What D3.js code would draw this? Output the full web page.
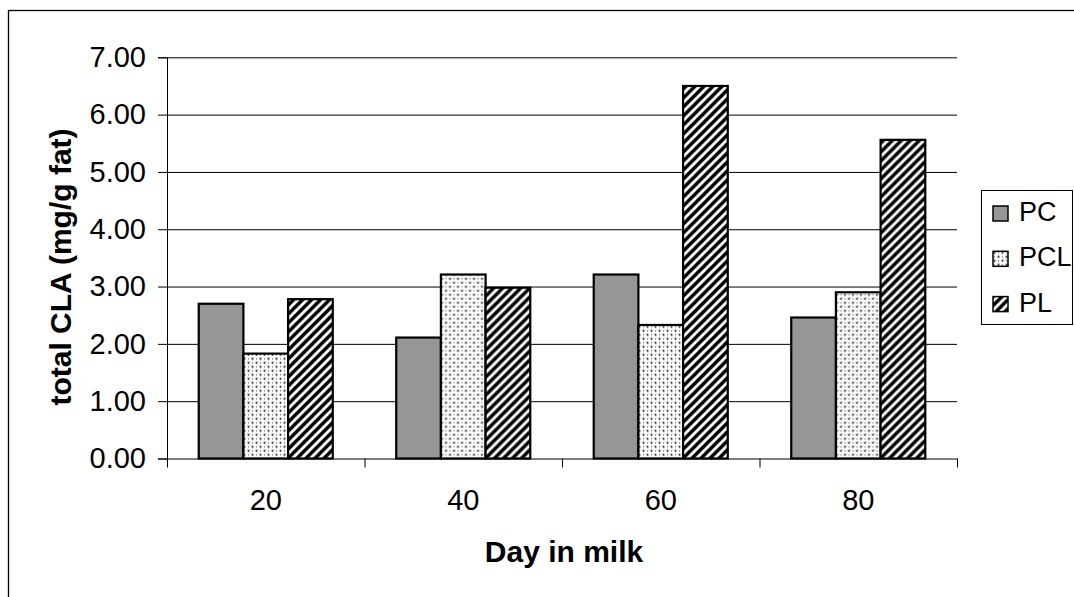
<!DOCTYPE html>
<html>
<head>
<meta charset="utf-8">
<script src="https://cdn.jsdelivr.net/npm/d3@7"></script>
<style>
  body { margin: 0; background: #fff; }
  text { font-family: "Liberation Sans", Arial, sans-serif; fill: #000; }
  .axis-title { font-weight: bold; font-size: 30px; }
  .tick text { font-size: 29px; }
  .legend text { font-size: 27px; }
</style>
</head>
<body>
<div id="chart"></div>
<script>
// Data
const categories = ['20', '40', '60', '80'];
const seriesNames = ['PC', 'PCL', 'PL'];
const pcValues = [2.70, 2.11, 3.21, 2.46];
const pclValues = [1.83, 3.21, 2.33, 2.90];
const plValues = [2.78, 2.98, 6.50, 5.56];
const yTicks = [0, 1, 2, 3, 4, 5, 6, 7];

class GroupedBarChart {

  constructor(_config) {
    this.config = {
      parentElement: _config.parentElement,
      containerWidth: 1074,
      containerHeight: 597,
      margin: { top: 57.3, right: 117, bottom: 138.5, left: 167 }
    };
    this.initVis();
  }

  initVis() {
    let vis = this;

    vis.width = vis.config.containerWidth - vis.config.margin.left - vis.config.margin.right;
    vis.height = vis.config.containerHeight - vis.config.margin.top - vis.config.margin.bottom;

    // Outer band is the day, inner band is the treatment
    vis.x0 = d3.scaleBand().domain(categories).range([0, vis.width]).padding(0);
    vis.x1 = d3.scaleBand().domain(seriesNames).range([0, vis.x0.bandwidth()])
      .paddingInner(0).paddingOuter(0.71);
    vis.xEdges = d3.scaleLinear().domain([0, categories.length]).range([0, vis.width]);
    vis.yScale = d3.scaleLinear().domain([0, 7]).range([vis.height, 0]);

    vis.svg = d3.select(vis.config.parentElement).append('svg')
      .attr('width', vis.config.containerWidth)
      .attr('height', vis.config.containerHeight);

    // Fill patterns
    const defs = vis.svg.append('defs');
    const dots = defs.append('pattern')
      .attr('id', 'dots')
      .attr('patternUnits', 'userSpaceOnUse')
      .attr('width', 8).attr('height', 8);
    dots.append('rect').attr('width', 8).attr('height', 8).attr('fill', '#fff');
    [[1.5, 1.5], [5.5, 5.5]].forEach(p => {
      dots.append('rect').attr('x', p[0] - 0.9).attr('y', p[1] - 0.9)
        .attr('width', 1.8).attr('height', 1.8).attr('fill', '#111');
    });
    [[5.5, 1.5], [1.5, 5.5]].forEach(p => {
      dots.append('rect').attr('x', p[0] - 0.6).attr('y', p[1] - 0.6)
        .attr('width', 1.2).attr('height', 1.2).attr('fill', '#666');
    });

    const hatch = defs.append('pattern')
      .attr('id', 'hatch')
      .attr('patternUnits', 'userSpaceOnUse')
      .attr('width', 9).attr('height', 9);
    hatch.append('rect').attr('width', 9).attr('height', 9).attr('fill', '#fff');
    hatch.append('path')
      .attr('d', 'M0,9 L9,0 M-3,3 L3,-3 M6,12 L12,6')
      .attr('stroke', '#000')
      .attr('stroke-width', 3.4);

    vis.fills = { PC: '#969696', PCL: 'url(#dots)', PL: 'url(#hatch)' };

    // Outer frame
    vis.svg.append('rect')
      .attr('x', 8.5).attr('y', 10.5)
      .attr('width', 1100).attr('height', 620)
      .attr('fill', 'none').attr('stroke', '#000').attr('stroke-width', 1.3);

    vis.chartArea = vis.svg.append('g')
      .attr('transform', `translate(${vis.config.margin.left},${vis.config.margin.top})`);

    vis.updateVis();
  }

  updateVis() {
    let vis = this;
    const valuesBySeries = { PC: pcValues, PCL: pclValues, PL: plValues };
    vis.groupData = categories.map((c, i) => ({
      day: c,
      bars: seriesNames.map(s => ({ series: s, value: valuesBySeries[s][i] }))
    }));
    vis.renderVis();
  }

  renderVis() {
    let vis = this;

    // Gridlines
    vis.chartArea.append('g')
      .attr('class', 'grid')
      .call(d3.axisLeft(vis.yScale).tickValues(yTicks.slice(1)).tickSize(-vis.width).tickFormat(''))
      .call(g => g.select('.domain').remove())
      .call(g => g.selectAll('line').attr('stroke', '#000').attr('stroke-width', 1));

    // Bars
    vis.chartArea.selectAll('.group')
      .data(vis.groupData)
      .join('g')
      .attr('class', 'group')
      .attr('transform', d => `translate(${vis.x0(d.day)},0)`)
      .selectAll('rect')
      .data(d => d.bars)
      .join('rect')
      .attr('x', d => vis.x1(d.series))
      .attr('y', d => vis.yScale(d.value))
      .attr('width', vis.x1.bandwidth())
      .attr('height', d => vis.height - vis.yScale(d.value))
      .attr('fill', d => vis.fills[d.series])
      .attr('stroke', '#000')
      .attr('stroke-width', 2.2);

    // Y axis
    vis.chartArea.append('g')
      .attr('class', 'y-axis')
      .call(d3.axisLeft(vis.yScale).tickValues(yTicks).tickFormat(d3.format('.2f'))
        .tickSize(9).tickPadding(12))
      .call(g => g.selectAll('path, line').attr('stroke', '#000'));

    // X axis: labels centred, ticks on the band edges
    vis.chartArea.append('g')
      .attr('class', 'x-axis')
      .attr('transform', `translate(0,${vis.height})`)
      .call(d3.axisBottom(vis.x0).tickSize(0).tickPadding(31))
      .call(g => g.select('.domain').remove());
    vis.chartArea.append('g')
      .attr('class', 'x-edges')
      .attr('transform', `translate(0,${vis.height})`)
      .call(d3.axisBottom(vis.xEdges).tickValues(d3.range(categories.length + 1))
        .tickFormat('').tickSize(9).tickSizeOuter(0))
      .call(g => g.selectAll('path, line').attr('stroke', '#000'));

    // Axis titles
    vis.svg.append('text')
      .attr('class', 'axis-title')
      .attr('x', 564).attr('y', 562)
      .attr('text-anchor', 'middle')
      .text('Day in milk');
    vis.svg.append('text')
      .attr('class', 'axis-title')
      .attr('transform', 'translate(71,267) rotate(-90)')
      .attr('text-anchor', 'middle')
      .text('total CLA (mg/g fat)');

    // Legend
    const legend = vis.svg.append('g').attr('class', 'legend');
    legend.append('rect')
      .attr('x', 981.5).attr('y', 190.5)
      .attr('width', 91).attr('height', 134)
      .attr('fill', '#fff').attr('stroke', '#000').attr('stroke-width', 1);
    const items = legend.selectAll('.item')
      .data(seriesNames)
      .join('g')
      .attr('class', 'item')
      .attr('transform', (d, i) => `translate(993,${206 + i * 45.3})`);
    items.append('rect')
      .attr('width', 15).attr('height', 15)
      .attr('fill', d => vis.fills[d])
      .attr('stroke', '#000').attr('stroke-width', 1.5);
    items.append('text')
      .attr('x', 26).attr('y', 15)
      .text(d => d);
  }
}

new GroupedBarChart({ parentElement: '#chart' });
</script>
</body>
</html>
